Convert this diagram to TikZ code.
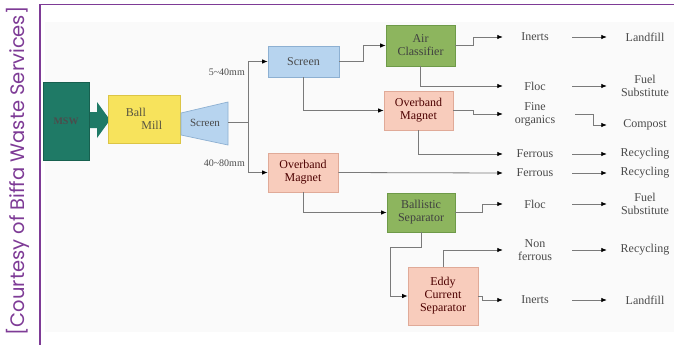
\documentclass[tikz,border=0pt]{standalone}
\usepackage{fontspec}
\setmainfont{Liberation Serif}
\newfontfamily\creditfont{Poppins}
\usetikzlibrary{arrows.meta}

\definecolor{creditpurple}{HTML}{7E3B96}
\definecolor{linegrey}{HTML}{7A7A7A}
\definecolor{tealfill}{HTML}{1F7A66}
\definecolor{tealdraw}{HTML}{17604F}
\definecolor{yellowfill}{HTML}{F7E35C}
\definecolor{yellowdraw}{HTML}{DCC545}
\definecolor{bluefill}{HTML}{B7D4EF}
\definecolor{bluedraw}{HTML}{8DB0D2}
\definecolor{greenfill}{HTML}{8DB55E}
\definecolor{greendraw}{HTML}{6E9A48}
\definecolor{pinkfill}{HTML}{F8CCBC}
\definecolor{pinkdraw}{HTML}{E0AA98}
\definecolor{txtgrey}{HTML}{4A4A4A}

\tikzset{
  plain/.style={draw=linegrey, line width=0.8pt},
  conn/.style={plain, -{Latex[length=5.5pt,width=4.5pt,black]}},
  unit/.style={draw, line width=0.7pt, align=center, inner sep=1pt,
    font=\rmfamily\fontsize{12}{13}\selectfont, text=txtgrey},
  bluebox/.style={unit, fill=bluefill, draw=bluedraw},
  greenbox/.style={unit, fill=greenfill, draw=greendraw, text=black!75},
  pinkbox/.style={unit, fill=pinkfill, draw=pinkdraw, text=black!70!red},
  product/.style={align=center, inner sep=0pt, minimum width=64pt,
    font=\rmfamily\fontsize{12}{13}\selectfont, text=txtgrey},
  destination/.style={product, minimum width=76pt},
  sizelabel/.style={font=\rmfamily\fontsize{10}{10}\selectfont, text=txtgrey, inner sep=0pt},
}

\begin{document}
\begin{tikzpicture}[x=1pt, y=-1pt]
  \useasboundingbox (0,0) rectangle (674,345);
  \fill[white] (0,0) rectangle (674,345);
  \fill[black!2] (45,22) rectangle (674,332);

  % credit line and frame
  \node[rotate=90, font=\creditfont\fontsize{19.5}{20}\selectfont, text=creditpurple]
    (credit) at (18,171) {[Courtesy of Biffa Waste Services]};
  \draw[creditpurple, line width=1.6pt] (40,345) -- (40,4.5) -- (674,4.5);

  % feed block with its arrow
  \fill[tealfill] (89,112) -- (97,112) -- (97,102) -- (110,120) -- (97,138) -- (97,128) -- (89,128) -- cycle;
  \node[unit, fill=tealfill, draw=tealdraw, minimum width=46pt, minimum height=78pt,
        text=black!70, font=\rmfamily\fontsize{10}{10}\selectfont\bfseries] (msw) at (66,121) {MSW};

  % ball mill
  \node[unit, fill=yellowfill, draw=yellowdraw, minimum width=72pt, minimum height=48pt,
        align=left, text=black!60!yellow!60!black] (mill) at (144,119) {Ball\\\hspace{1.3em}Mill};

  % trommel screen
  \fill[bluefill, draw=bluedraw, line width=0.7pt]
    (181,113) -- (228,102) -- (228,145) -- (181,135) -- cycle;
  \node[font=\rmfamily\fontsize{11}{11}\selectfont, text=txtgrey, inner sep=0pt] (scr1) at (205,123) {Screen};
  \coordinate (scr1out) at (228,122);
  \coordinate (split) at (248,122);

  % process units
  \node[bluebox, minimum width=71pt, minimum height=31pt] (scr2) at (303.5,61.5) {Screen};
  \node[greenbox, minimum width=69pt, minimum height=41pt] (aircl) at (420.5,45.5) {Air\\Classifier};
  \node[pinkbox, minimum width=69pt, minimum height=39pt] (om1) at (418.5,110.5) {Overband\\Magnet};
  \node[pinkbox, minimum width=70pt, minimum height=39pt] (om2) at (303,172.5) {Overband\\Magnet};
  \node[greenbox, minimum width=68pt, minimum height=39pt] (ballsep) at (421,212.5) {Ballistic\\Separator};
  \node[pinkbox, minimum width=70pt, minimum height=58pt] (ecs) at (443,296) {Eddy\\Current\\Separator};

  % size fractions
  \node[sizelabel, anchor=east] (fine) at (245,72) {5\textasciitilde 40mm};
  \node[sizelabel, anchor=east] (coarse) at (245,163) {40\textasciitilde 80mm};

  % output streams
  \node[product] (inerts1) at (535,37) {Inerts};
  \node[product] (floc1) at (535,86) {Floc};
  \node[product] (fineorg) at (535,114) {Fine\\organics};
  \node[product] (ferr1) at (535,154) {Ferrous};
  \node[product] (ferr2) at (535,173) {Ferrous};
  \node[product] (floc2) at (535,204) {Floc};
  \node[product] (nonfer) at (535,250) {Non\\ferrous};
  \node[product] (inerts2) at (535,300) {Inerts};

  % destinations
  \node[destination] (land1) at (645,37) {Landfill};
  \node[destination] (fuel1) at (645,86) {Fuel\\Substitute};
  \node[destination] (compost) at (645,125) {Compost};
  \node[destination] (rec1) at (645,154) {Recycling};
  \node[destination] (rec2) at (645,173) {Recycling};
  \node[destination] (fuel2) at (645,204) {Fuel\\Substitute};
  \node[destination] (rec3) at (645,250) {Recycling};
  \node[destination] (land2) at (645,300) {Landfill};

  % flows between units
  \draw[plain] (scr1out) -- (split);
  \draw[conn] (split) |- (scr2.west);
  \draw[conn] (split) |- (om2.west);
  \draw[conn] (scr2.east) -- ++(24,0) |- (aircl.west);
  \draw[conn] (scr2.south) |- (om1.west);
  \draw[conn] (om2.south) |- (ballsep.west);
  \draw[conn] (ballsep.south) -- ++(0,15.5) -- ++(-31,0) |- (ecs.west);

  % flows to output streams
  \draw[conn] (aircl.east) -- ++(18,0) |- (inerts1.west);
  \draw[conn] (aircl.south) |- (floc1.west);
  \draw[conn] (om1.east) -- ++(20,0) |- (fineorg.west);
  \draw[conn] (om1.south) |- (ferr1.west);
  \draw[conn] (om2.east) -- (ferr2.west);
  \draw[conn] (ballsep.east) -- ++(27,0) |- (floc2.west);
  \draw[conn] (ecs.north) |- (nonfer.west);
  \draw[conn] (ecs.east) -- ++(4,0) |- (inerts2.west);

  % streams to destinations
  \draw[conn, shorten <=5pt] (inerts1.east) -- (land1.west);
  \draw[conn, shorten <=5pt] (floc1.east) -- (fuel1.west);
  \draw[conn, shorten <=8pt] (fineorg.east) -- ++(26,0) |- (compost.west);
  \draw[conn, shorten <=5pt] (ferr1.east) -- (rec1.west);
  \draw[conn, shorten <=5pt] (ferr2.east) -- (rec2.west);
  \draw[conn, shorten <=5pt] (floc2.east) -- (fuel2.west);
  \draw[conn, shorten <=5pt] (nonfer.east) -- (rec3.west);
  \draw[conn, shorten <=5pt] (inerts2.east) -- (land2.west);
\end{tikzpicture}
\end{document}
